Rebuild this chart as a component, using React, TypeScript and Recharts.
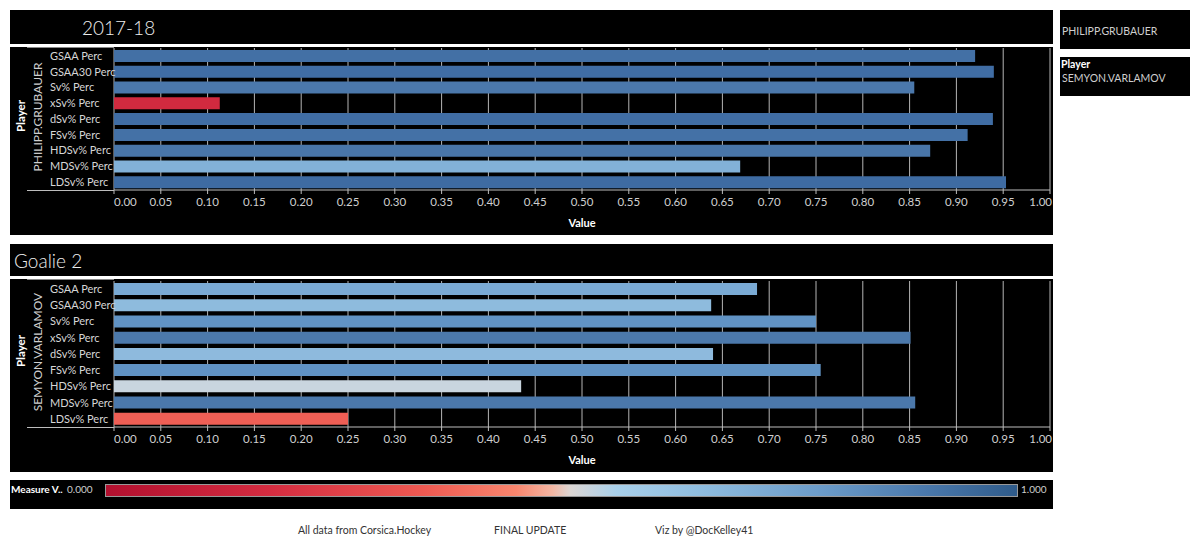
import React from 'react';
import { BarChart, Bar, Cell, XAxis, YAxis, CartesianGrid } from 'recharts';

const metrics = [
  'GSAA Perc',
  'GSAA30 Perc',
  'Sv% Perc',
  'xSv% Perc',
  'dSv% Perc',
  'FSv% Perc',
  'HDSv% Perc',
  'MDSv% Perc',
  'LDSv% Perc',
];
const grubauerValues = [0.92, 0.94, 0.855, 0.113, 0.939, 0.912, 0.872, 0.669, 0.953];
const varlamovValues = [0.687, 0.638, 0.75, 0.851, 0.64, 0.755, 0.435, 0.856, 0.25];
const xTicks = [0, 0.05, 0.1, 0.15, 0.2, 0.25, 0.3, 0.35, 0.4, 0.45, 0.5, 0.55, 0.6, 0.65, 0.7, 0.75, 0.8, 0.85, 0.9, 0.95, 1];

const FONT = 'Lato, "Noto Sans", sans-serif';

// bar colour ramp (red -> pale -> blue), tuned to the reference bars
const barStops: [number, number[]][] = [
  [0, [176, 17, 47]],
  [0.11, [208, 41, 63]],
  [0.25, [239, 95, 85]],
  [0.43, [202, 214, 223]],
  [0.65, [139, 185, 221]],
  [0.69, [121, 169, 211]],
  [0.75, [97, 147, 196]],
  [0.85, [76, 121, 171]],
  [0.95, [63, 108, 163]],
  [1, [45, 90, 138]],
];

function colorFor(v: number) {
  for (let i = 1; i < barStops.length; i++) {
    const [b, cb] = barStops[i];
    const [a, ca] = barStops[i - 1];
    if (v <= b) {
      const t = (v - a) / (b - a);
      const c = ca.map((x, k) => Math.round(x + (cb[k] - x) * t));
      return `rgb(${c.join(',')})`;
    }
  }
  return 'rgb(45,90,138)';
}

const legendGradient =
  'linear-gradient(to right, #b2102f 0%, #d42c40 18%, #ee5a52 35%, #f9866e 45%, #f3b6a3 49%, #dcd6d4 51%, #a9d0ea 56%, #8dbbde 66%, #6d9dca 78%, #4a78ab 90%, #2f5b8a 100%)';

const XTick = (props: any) => {
  const { x, y, payload } = props;
  const v = payload.value;
  const anchor = v === 1 ? 'end' : v === 0 ? 'start' : 'middle';
  return (
    <text
      x={v === 1 ? x + 2 : x}
      y={y}
      dy="0.71em"
      textAnchor={anchor}
      fill="#cfcfcf"
      fontSize={11.5}
      fontFamily={FONT}
    >
      {v.toFixed(2)}
    </text>
  );
};

const YTick = (props: any) => {
  const { y, payload } = props;
  return (
    <text x={40} y={y} dy="0.35em" textAnchor="start" fill="#d6d6d6" fontSize={11} fontFamily={FONT}>
      {payload.value}
    </text>
  );
};

function Panel({ top, height, plotTop, values, player }: { top: number; height: number; plotTop: number; values: number[]; player: string }) {
  const data = metrics.map((m, i) => ({ metric: m, value: values[i] }));
  const axisY = height - 45;
  return (
    <div style={{ position: 'absolute', left: 10, top, width: 1043, height, background: '#000' }}>
      <BarChart
        width={1043}
        height={height}
        data={data}
        layout="vertical"
        margin={{ top: plotTop, right: 3, left: 0, bottom: 0 }}
        barCategoryGap={2}
      >
        <CartesianGrid horizontal={false} stroke="#b5b5b5" strokeWidth={1} />
        <XAxis
          type="number"
          domain={[0, 1]}
          ticks={xTicks}
          interval={0}
          height={45}
          tick={<XTick />}
          tickSize={4}
          tickMargin={4}
          stroke="#bdbdbd"
          label={{ value: 'Value', position: 'insideBottom', offset: 8, fill: '#fff', fontSize: 11, fontWeight: 'bold', fontFamily: FONT }}
        />
        <YAxis
          type="category"
          dataKey="metric"
          width={104}
          interval={0}
          axisLine={false}
          tickLine={false}
          tick={<YTick />}
        />
        <Bar dataKey="value" isAnimationActive={false}>
          {data.map((d) => (
            <Cell key={d.metric} fill={colorFor(d.value)} />
          ))}
        </Bar>
      </BarChart>
      <div style={{ position: 'absolute', left: 17, top: 0, width: 87, height: 1, background: '#888' }} />
      <div style={{ position: 'absolute', left: 17, top: axisY, width: 87, height: 1, background: '#bdbdbd' }} />
      <div
        style={{
          position: 'absolute',
          left: 10,
          top: plotTop + (axisY - plotTop) / 2 - 3,
          transform: 'translate(-50%, -50%) rotate(-90deg)',
          color: '#fff',
          fontWeight: 'bold',
          fontSize: 11.5,
          whiteSpace: 'nowrap',
        }}
      >
        Player
      </div>
      <div
        style={{
          position: 'absolute',
          left: 27,
          top: plotTop + (axisY - plotTop) / 2 - 2,
          transform: 'translate(-50%, -50%) rotate(-90deg)',
          color: '#cfcfcf',
          fontSize: 12,
          whiteSpace: 'nowrap',
        }}
      >
        {player}
      </div>
    </div>
  );
}

export default function App() {
  const box: React.CSSProperties = { position: 'absolute', background: '#000' };
  return (
    <div style={{ position: 'absolute', left: 0, top: 0, width: 1200, height: 554, background: '#fff', fontFamily: FONT, overflow: 'hidden' }}>
      <div style={{ ...box, left: 10, top: 10, width: 1043, height: 34 }}>
        <div style={{ position: 'absolute', left: 72, top: 6, color: '#eee', fontSize: 19, fontWeight: 300 }}>2017-18</div>
      </div>
      <Panel top={47} height={188} plotTop={1} values={grubauerValues} player="PHILIPP.GRUBAUER" />

      <div style={{ ...box, left: 10, top: 244, width: 1043, height: 32 }}>
        <div style={{ position: 'absolute', left: 4, top: 5, color: '#eee', fontSize: 19, fontWeight: 300 }}>Goalie 2</div>
      </div>
      <Panel top={279} height={193} plotTop={2} values={varlamovValues} player="SEMYON.VARLAMOV" />

      <div style={{ ...box, left: 10, top: 480, width: 1043, height: 29 }}>
        <div style={{ position: 'absolute', left: 1, top: 3, color: '#fff', fontSize: 10, fontWeight: 'bold' }}>Measure V..</div>
        <div style={{ position: 'absolute', left: 57, top: 3, color: '#cfcfcf', fontSize: 10 }}>0.000</div>
        <div
          style={{
            position: 'absolute',
            left: 95,
            top: 4,
            width: 911,
            height: 11,
            background: legendGradient,
            border: '1px solid #999',
          }}
        />
        <div style={{ position: 'absolute', left: 1011, top: 3, color: '#cfcfcf', fontSize: 10 }}>1.000</div>
      </div>

      <div style={{ ...box, left: 1060, top: 10, width: 130, height: 39 }}>
        <div style={{ position: 'absolute', left: 2, top: 15, color: '#cfcfcf', fontSize: 10.5 }}>PHILIPP.GRUBAUER</div>
      </div>
      <div style={{ ...box, left: 1060, top: 57, width: 130, height: 39 }}>
        <div style={{ position: 'absolute', left: 1, top: 1, color: '#fff', fontSize: 10.5, fontWeight: 'bold' }}>Player</div>
        <div style={{ position: 'absolute', left: 2, top: 15, color: '#cfcfcf', fontSize: 10.5 }}>SEMYON.VARLAMOV</div>
      </div>

      <div style={{ position: 'absolute', left: 298, top: 524, color: '#333', fontSize: 10.5 }}>All data from Corsica.Hockey</div>
      <div style={{ position: 'absolute', left: 494, top: 524, color: '#333', fontSize: 10.5 }}>FINAL UPDATE</div>
      <div style={{ position: 'absolute', left: 655, top: 524, color: '#333', fontSize: 10.5 }}>Viz by @DocKelley41</div>
    </div>
  );
}
